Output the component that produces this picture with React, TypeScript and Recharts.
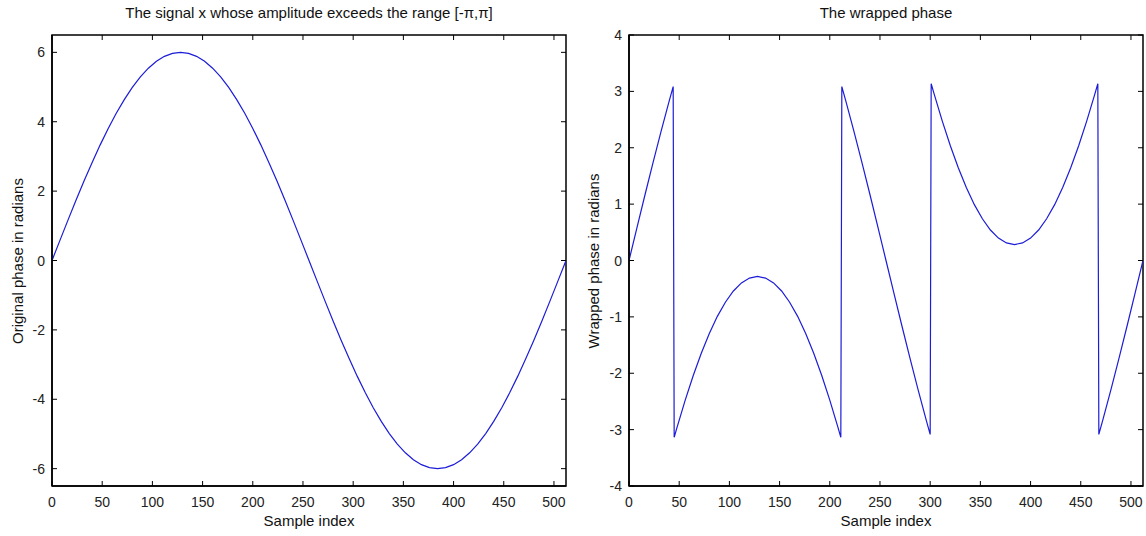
import React from "react";
import {
  LineChart,
  Line,
  XAxis,
  YAxis,
  ReferenceArea,
} from "recharts";

// sample index / phase values (every 8 samples)
const ORIGINAL_IDX = [
  0, 8, 16, 24, 32, 40, 48, 56, 64, 72, 80, 88, 96, 104, 112, 120, 128,
  136, 144, 152, 160, 168, 176, 184, 192, 200, 208, 216, 224, 232, 240, 248, 256,
  264, 272, 280, 288, 296, 304, 312, 320, 328, 336, 344, 352, 360, 368, 376, 384,
  392, 400, 408, 416, 424, 432, 440, 448, 456, 464, 472, 480, 488, 496, 504, 512,
];
const ORIGINAL_PHASE = [
  0, 0.588, 1.171, 1.742, 2.296, 2.828, 3.333, 3.806, 4.243, 4.638, 4.989, 5.292, 5.543, 5.742, 5.885, 5.971, 6,
  5.971, 5.885, 5.742, 5.543, 5.292, 4.989, 4.638, 4.243, 3.806, 3.333, 2.828, 2.296, 1.742, 1.171, 0.588, 0,
  -0.588, -1.171, -1.742, -2.296, -2.828, -3.333, -3.806, -4.243, -4.638, -4.989, -5.292, -5.543, -5.742, -5.885, -5.971, -6,
  -5.971, -5.885, -5.742, -5.543, -5.292, -4.989, -4.638, -4.243, -3.806, -3.333, -2.828, -2.296, -1.742, -1.171, -0.588, 0,
];

// right panel, with the samples on both sides of each wrap jump
const WRAPPED_IDX = [
  0, 8, 16, 24, 32, 40, 44, 45, 48, 56, 64, 72, 80, 88, 96, 104, 112, 120, 128,
  136, 144, 152, 160, 168, 176, 184, 192, 200, 208, 211, 212, 216, 224, 232, 240, 248, 256,
  264, 272, 280, 288, 296, 300, 301, 304, 312, 320, 328, 336, 344, 352, 360, 368, 376, 384,
  392, 400, 408, 416, 424, 432, 440, 448, 456, 464, 467, 468, 472, 480, 488, 496, 504, 512,
];
const WRAPPED_PHASE = [
  0, 0.588, 1.171, 1.742, 2.296, 2.828, 3.085, -3.135, -2.95, -2.477, -2.04, -1.645, -1.294, -0.991, -0.74, -0.541, -0.398, -0.312, -0.283,
  -0.312, -0.398, -0.541, -0.74, -0.991, -1.294, -1.645, -2.04, -2.477, -2.95, -3.135, 3.085, 2.828, 2.296, 1.742, 1.171, 0.588, 0,
  -0.588, -1.171, -1.742, -2.296, -2.828, -3.085, 3.135, 2.95, 2.477, 2.04, 1.645, 1.294, 0.991, 0.74, 0.541, 0.398, 0.312, 0.283,
  0.312, 0.398, 0.541, 0.74, 0.991, 1.294, 1.645, 2.04, 2.477, 2.95, 3.135, -3.085, -2.828, -2.296, -1.742, -1.171, -0.588, 0,
];

const X_TICKS = [0, 50, 100, 150, 200, 250, 300, 350, 400, 450, 500];
const LEFT_Y_TICKS = [-6, -4, -2, 0, 2, 4, 6];
const RIGHT_Y_TICKS = [-4, -3, -2, -1, 0, 1, 2, 3, 4];

const FONT = "'Liberation Sans', Arial, Helvetica, sans-serif";
const LINE_COLOR = "#1c1cd8";

const W = 573;
const H = 536;
const TOP = 35;
const X_AXIS_H = 50;
const PLOT_H = H - TOP - X_AXIS_H;
const PLOT_W = 514;

type PanelProps = {
  left: number;
  yAxisW: number;
  title: string;
  yLabel: string;
  yLabelX: number;
  data: Array<{ x: number; y: number }>;
  yDomain: [number, number];
  yTicks: number[];
};

function Panel({ left, yAxisW, title, yLabel, yLabelX, data, yDomain, yTicks }: PanelProps) {
  const XTick = (props: any) => {
    const { x, y, payload } = props;
    const top = y - PLOT_H;
    return (
      <g>
        <line x1={x} y1={y} x2={x} y2={y - 5} stroke="#000" />
        <line x1={x} y1={top} x2={x} y2={top + 5} stroke="#000" />
        <text x={x} y={y + 21} textAnchor="middle" fill="#222" fontSize={14} fontFamily={FONT}>
          {payload.value}
        </text>
      </g>
    );
  };

  const YTick = (props: any) => {
    const { x, y, payload } = props;
    return (
      <g>
        <line x1={x} y1={y} x2={x + 5} y2={y} stroke="#000" />
        <line x1={x + PLOT_W - 5} y1={y} x2={x + PLOT_W} y2={y} stroke="#000" />
        <text x={x - 7} y={y + 5} textAnchor="end" fill="#222" fontSize={14} fontFamily={FONT}>
          {payload.value}
        </text>
      </g>
    );
  };

  const plotLeft = yAxisW;
  return (
    <div style={{ position: "absolute", left, top: 0, width: W, height: H }}>
      <LineChart
        width={W}
        height={H}
        data={data}
        margin={{ top: TOP, right: W - yAxisW - PLOT_W, bottom: 0, left: 0 }}
      >
        <XAxis
          type="number"
          dataKey="x"
          domain={[0, 512]}
          ticks={X_TICKS}
          allowDataOverflow
          height={X_AXIS_H}
          tickSize={0}
          tickMargin={0}
          tickLine={false}
          axisLine={{ stroke: "#000", strokeWidth: 1.5 }}
          tick={<XTick />}
        />
        <YAxis
          type="number"
          dataKey="y"
          domain={yDomain}
          ticks={yTicks}
          allowDataOverflow
          width={yAxisW}
          tickSize={0}
          tickMargin={0}
          tickLine={false}
          axisLine={{ stroke: "#000", strokeWidth: 1.5 }}
          tick={<YTick />}
        />
        <ReferenceArea
          x1={0}
          x2={512}
          y1={yDomain[0]}
          y2={yDomain[1]}
          fill="none"
          stroke="#000"
          strokeWidth={1.5}
          ifOverflow="visible"
        />
        <Line
          type="linear"
          dataKey="y"
          stroke={LINE_COLOR}
          strokeWidth={1.2}
          dot={false}
          isAnimationActive={false}
        />
      </LineChart>
      <div
        style={{
          position: "absolute",
          left: plotLeft,
          width: PLOT_W,
          top: 4,
          textAlign: "center",
          fontFamily: FONT,
          fontSize: 15,
          color: "#111",
          whiteSpace: "nowrap",
        }}
      >
        {title}
      </div>
      <div
        style={{
          position: "absolute",
          left: plotLeft,
          width: PLOT_W,
          top: 512,
          textAlign: "center",
          fontFamily: FONT,
          fontSize: 15,
          color: "#111",
        }}
      >
        Sample index
      </div>
      <div
        style={{
          position: "absolute",
          left: yLabelX - 150,
          top: TOP + PLOT_H / 2 - 10,
          width: 300,
          height: 20,
          lineHeight: "20px",
          textAlign: "center",
          transform: "rotate(-90deg)",
          fontFamily: FONT,
          fontSize: 15,
          color: "#111",
          whiteSpace: "nowrap",
        }}
      >
        {yLabel}
      </div>
    </div>
  );
}

export default function App() {
  const original = ORIGINAL_IDX.map((x, i) => ({ x, y: ORIGINAL_PHASE[i] }));
  const wrapped = WRAPPED_IDX.map((x, i) => ({ x, y: WRAPPED_PHASE[i] }));
  return (
    <div
      style={{
        position: "absolute",
        left: 0,
        top: 0,
        width: 1146,
        height: 536,
        background: "#fff",
      }}
    >
      <Panel
        left={0}
        yAxisW={52}
        title="The signal x whose amplitude exceeds the range [-π,π]"
        yLabel="Original phase in radians"
        yLabelX={18}
        data={original}
        yDomain={[-6.5, 6.5]}
        yTicks={LEFT_Y_TICKS}
      />
      <Panel
        left={573}
        yAxisW={56}
        title="The wrapped phase"
        yLabel="Wrapped phase in radians"
        yLabelX={21}
        data={wrapped}
        yDomain={[-4, 4]}
        yTicks={RIGHT_Y_TICKS}
      />
    </div>
  );
}
